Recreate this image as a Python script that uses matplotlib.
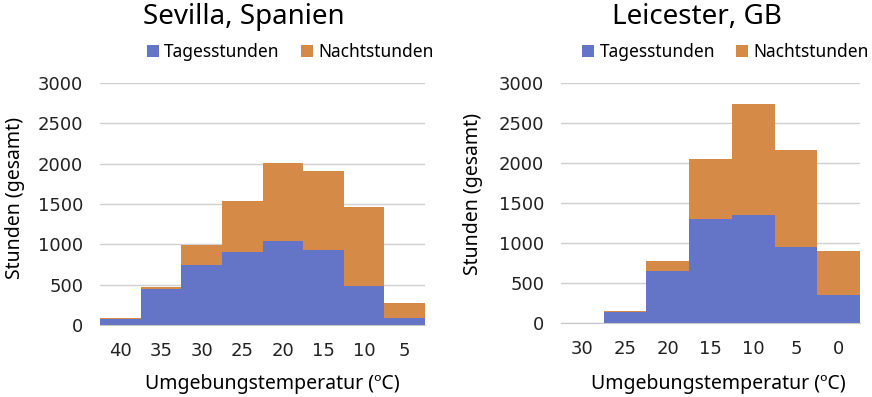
import matplotlib
matplotlib.use('Agg')
import matplotlib.pyplot as plt
import numpy as np

plt.rcParams['font.family'] = ['Noto Sans', 'DejaVu Sans']

# Sevilla
sev_temps = ['40', '35', '30', '25', '20', '15', '10', '5']
sev_day = [75, 450, 745, 905, 1035, 935, 485, 90]
sev_total = [88, 475, 995, 1535, 2008, 1912, 1465, 270]

# Leicester
lei_temps = ['30', '25', '20', '15', '10', '5', '0']
lei_day = [0, 138, 655, 1305, 1350, 955, 348]
lei_total = [0, 145, 775, 2052, 2738, 2168, 895]

blue = '#6474c6'
orange = '#d58a48'

fig = plt.figure(figsize=(8.72, 3.97), dpi=100)

def draw(ax, temps, day, total):
    x = np.arange(len(temps))
    night = np.array(total) - np.array(day)
    ax.bar(x, day, width=1.0, color=blue, label='Tagesstunden', zorder=2)
    ax.bar(x, night, width=1.0, bottom=day, color=orange, label='Nachtstunden', zorder=2)
    ax.set_xlim(-0.5, len(temps) - 0.5)
    ax.set_ylim(0, 3000)
    ax.set_yticks(range(0, 3001, 500))
    ax.set_xticks(x)
    ax.set_xticklabels(temps)
    ax.yaxis.grid(True, color='#d0d0d0', lw=1, zorder=0)
    for s in ['top', 'right', 'left']:
        ax.spines[s].set_visible(False)
    ax.spines['bottom'].set_color('#c8c8c8')
    ax.tick_params(length=0, labelsize=13, colors='#222222', labelfontfamily='DejaVu Sans')
    ax.tick_params(axis='x', pad=12)
    ax.tick_params(axis='y', pad=12)

ax1 = fig.add_axes([0.1147, 0.1814, 0.3727, 0.6096])
draw(ax1, sev_temps, sev_day, sev_total)
ax1.legend(loc='center', bbox_to_anchor=(0.585, 1.128), ncol=2, frameon=False,
           fontsize=12.5, handlelength=0.7, handleheight=0.7, handletextpad=0.3,
           columnspacing=1.2)

ax2 = fig.add_axes([0.6433, 0.1864, 0.343, 0.6045])
draw(ax2, lei_temps, lei_day, lei_total)
ax2.legend(loc='center', bbox_to_anchor=(0.55, 1.129), ncol=2, frameon=False,
           fontsize=12.5, handlelength=0.7, handleheight=0.7, handletextpad=0.3,
           columnspacing=1.2)

W, H = 872, 397
fig.text(244 / W, 1 - 17 / H, 'Sevilla, Spanien', ha='center', va='center', fontsize=20)
fig.text(697 / W, 1 - 17 / H, 'Leicester, GB', ha='center', va='center', fontsize=20)
fig.text(272 / W, 1 - 384 / H, 'Umgebungstemperatur (ºC)', ha='center', va='center', fontsize=14)
fig.text(718 / W, 1 - 384 / H, 'Umgebungstemperatur (ºC)', ha='center', va='center', fontsize=14)
fig.text(15 / W, 1 - 198 / H, 'Stunden (gesamt)', ha='center', va='center', rotation=90, fontsize=14)
fig.text(473 / W, 1 - 194 / H, 'Stunden (gesamt)', ha='center', va='center', rotation=90, fontsize=14)

plt.savefig('out.png', dpi=100)
